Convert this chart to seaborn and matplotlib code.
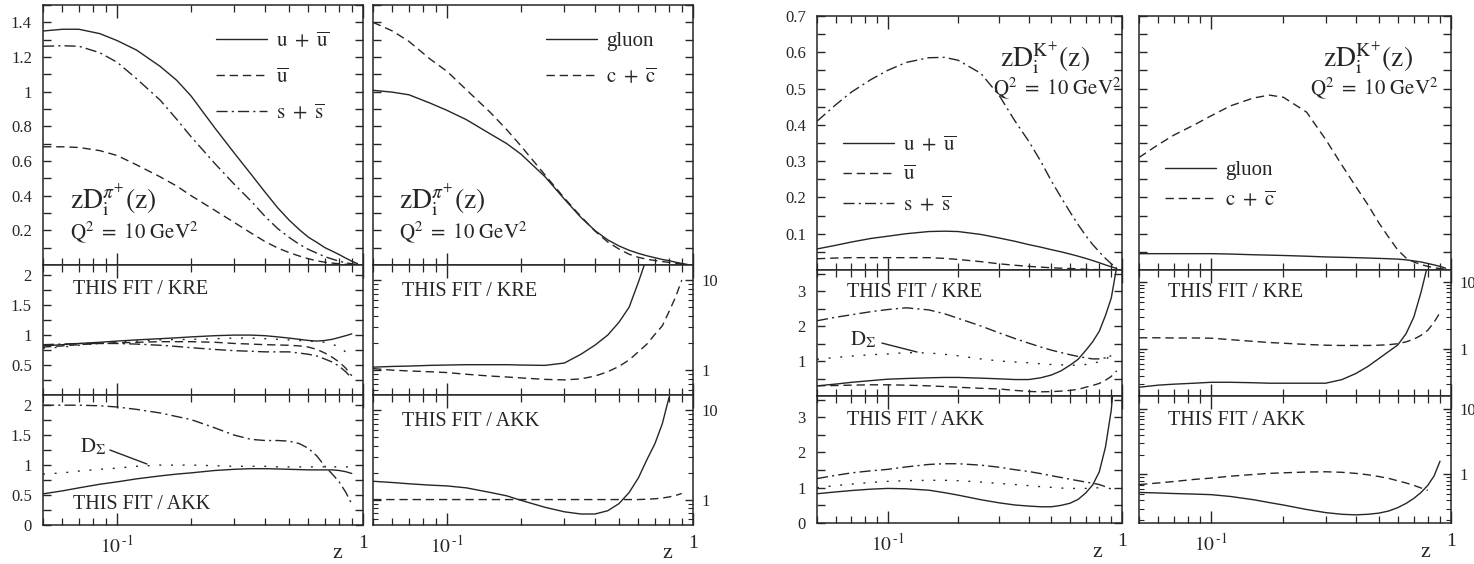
import numpy as np
import matplotlib
matplotlib.use("Agg")
import matplotlib.pyplot as plt
import seaborn as sns
from matplotlib.ticker import FixedLocator, FixedFormatter, NullFormatter, MultipleLocator, FuncFormatter

sns.set_theme(style="ticks")
plt.rcParams["font.family"] = ["Liberation Serif", "DejaVu Serif"]
plt.rcParams["mathtext.fontset"] = "stix"

NA = np.nan
# common z grid
z = [0.05, 0.06, 0.07, 0.085, 0.1, 0.12, 0.15, 0.175, 0.2, 0.25, 0.3, 0.35,
     0.4, 0.45, 0.5, 0.55, 0.6, 0.65, 0.7, 0.75, 0.8, 0.85, 0.9, 0.95]

# ---------------- pi+ : zD_i(z) ----------------
pi_upu = [1.35, 1.36, 1.36, 1.335, 1.295, 1.24, 1.145, 1.065, 0.975, 0.79, 0.645, 0.525,
          0.42, 0.33, 0.26, 0.205, 0.16, 0.13, 0.10, 0.08, 0.06, 0.04, 0.022, 0.008]
pi_ubar = [0.682, 0.682, 0.678, 0.66, 0.632, 0.578, 0.508, 0.455, 0.40, 0.315, 0.245, 0.185,
           0.135, 0.098, 0.072, 0.052, 0.036, 0.024, 0.016, 0.011, 0.007, 0.004, 0.002, 0.0005]
pi_sps = [1.262, 1.265, 1.262, 1.225, 1.17, 1.075, 0.95, 0.84, 0.74, 0.585, 0.465, 0.37,
          0.28, 0.21, 0.16, 0.12, 0.09, 0.068, 0.048, 0.034, 0.022, 0.013, 0.007, 0.002]
pi_glu = [1.008, 0.997, 0.982, 0.935, 0.892, 0.838, 0.756, 0.70, 0.639, 0.51, 0.38, 0.275,
          0.198, 0.145, 0.11, 0.085, 0.067, 0.053, 0.042, 0.032, 0.025, 0.016, 0.009, 0.003]
pi_cpc = [1.40, 1.35, 1.29, 1.19, 1.117, 1.01, 0.88, 0.78, 0.686, 0.52, 0.386, 0.28,
          0.195, 0.133, 0.092, 0.062, 0.044, 0.033, 0.026, 0.02, 0.015, 0.01, 0.005, 0.002]

# pi+ : THIS FIT / KRE
pi_kre_upu = [0.82, 0.84, 0.86, 0.88, 0.90, 0.92, 0.94, 0.955, 0.97, 0.99, 1.0, 1.0,
              0.99, 0.97, 0.95, 0.93, 0.91, 0.90, 0.91, 0.93, 0.96, 0.99, 1.02, NA]
pi_kre_ubar = [0.80, 0.82, 0.84, 0.86, 0.87, 0.88, 0.89, 0.89, 0.89, 0.88, 0.86, 0.85,
               0.84, 0.835, 0.83, 0.82, 0.80, 0.76, 0.70, 0.63, 0.55, 0.45, 0.32, NA]
pi_kre_sps = [0.84, 0.85, 0.86, 0.86, 0.86, 0.85, 0.83, 0.81, 0.79, 0.76, 0.74, 0.73,
              0.72, 0.72, 0.72, 0.70, 0.68, 0.65, 0.60, 0.55, 0.48, 0.39, 0.28, NA]
pi_kre_dsig = [0.78, 0.80, 0.83, 0.86, 0.88, 0.90, 0.92, 0.925, 0.93, 0.94, 0.95, 0.95,
               0.94, 0.93, 0.92, 0.91, 0.90, 0.89, 0.88, 0.85, 0.80, 0.72, 0.62, NA]
pi_kre_glu = [1.08, 1.10, 1.11, 1.13, 1.14, 1.15, 1.15, 1.15, 1.14, 1.13, 1.2, 1.5,
              1.9, 2.45, 3.4, 5.0, 9.5, 18.0, NA, NA, NA, NA, NA, NA]
pi_kre_cpc = [1.04, 1.0, 0.98, 0.96, 0.94, 0.90, 0.86, 0.84, 0.82, 0.79, 0.78, 0.80,
              0.86, 0.96, 1.1, 1.3, 1.6, 1.95, 2.5, 3.1, 4.5, 6.5, 10.0, NA]

# pi+ : THIS FIT / AKK
pi_akk_upu = [0.52, 0.57, 0.62, 0.68, 0.72, 0.77, 0.82, 0.85, 0.87, 0.91, 0.93, 0.94,
              0.94, 0.935, 0.93, 0.925, 0.92, 0.92, 0.92, 0.92, 0.91, 0.89, 0.86, NA]
pi_akk_sps = [2.0, 2.0, 2.0, 1.99, 1.97, 1.93, 1.87, 1.81, 1.76, 1.62, 1.50, 1.43,
              1.41, 1.41, 1.40, 1.36, 1.28, 1.15, 0.98, 0.85, 0.72, 0.55, 0.35, NA]
pi_akk_dsig = [0.85, 0.87, 0.90, 0.93, 0.95, 0.98, 1.0, 1.0, 1.0, 0.99, 0.98, 0.98,
               0.98, 0.97, 0.97, 0.97, 0.97, 0.97, 0.97, 0.97, 0.97, 0.97, 0.97, NA]
pi_akk_glu = [1.6, 1.55, 1.5, 1.45, 1.42, 1.35, 1.2, 1.1, 0.98, 0.82, 0.73, 0.69,
              0.69, 0.75, 0.9, 1.2, 1.75, 2.8, 4.2, 7.0, 14.0, NA, NA, NA]
pi_akk_cpc = [1.0, 1.0, 1.0, 1.0, 1.0, 1.0, 1.0, 1.0, 1.0, 1.0, 1.0, 1.0,
              1.0, 1.0, 1.0, 1.0, 1.0, 1.01, 1.02, 1.04, 1.07, 1.11, 1.17, NA]

# ---------------- K+ : zD_i(z) ----------------
k_upu = [0.058, 0.068, 0.077, 0.087, 0.093, 0.100, 0.106, 0.107, 0.106, 0.098, 0.088, 0.079,
         0.070, 0.063, 0.056, 0.050, 0.044, 0.038, 0.032, 0.026, 0.020, 0.014, 0.009, 0.004]
k_ubar = [0.031, 0.033, 0.034, 0.034, 0.034, 0.034, 0.034, 0.032, 0.029, 0.023, 0.017, 0.013,
          0.010, 0.008, 0.006, 0.005, 0.004, 0.003, 0.002, 0.0015, 0.001, 0.0007, 0.0005, 0.0002]
k_sps = [0.41, 0.455, 0.49, 0.525, 0.55, 0.572, 0.585, 0.586, 0.578, 0.542, 0.48, 0.41,
         0.355, 0.30, 0.245, 0.20, 0.16, 0.125, 0.095, 0.07, 0.05, 0.032, 0.017, 0.006]
k_glu = [0.045, 0.045, 0.045, 0.045, 0.045, 0.044, 0.042, 0.041, 0.040, 0.038, 0.036, 0.035,
         0.034, 0.033, 0.032, 0.031, 0.030, 0.028, 0.025, 0.022, 0.018, 0.014, 0.010, 0.005]
k_cpc = [0.31, 0.345, 0.372, 0.40, 0.425, 0.452, 0.474, 0.482, 0.476, 0.435, 0.36, 0.29,
         0.231, 0.18, 0.13, 0.09, 0.055, 0.033, 0.022, 0.015, 0.01, 0.006, 0.004, 0.002]

# K+ : THIS FIT / KRE
k_kre_upu = [0.29, 0.34, 0.39, 0.44, 0.48, 0.50, 0.52, 0.53, 0.53, 0.51, 0.49, 0.47,
             0.47, 0.52, 0.60, 0.72, 0.88, 1.05, 1.3, 1.55, 1.85, 2.3, 2.8, 3.7]
k_kre_ubar = [0.29, 0.30, 0.31, 0.32, 0.32, 0.31, 0.29, 0.27, 0.25, 0.22, 0.20, 0.16,
              0.13, 0.12, 0.125, 0.14, 0.16, 0.19, 0.25, 0.30, 0.36, 0.45, 0.56, 0.72]
k_kre_sps = [2.15, 2.25, 2.32, 2.41, 2.47, 2.52, 2.46, 2.35, 2.22, 2.0, 1.8, 1.64,
             1.51, 1.40, 1.31, 1.24, 1.18, 1.13, 1.09, 1.06, 1.06, 1.09, 1.15, NA]
k_kre_dsig = [1.05, 1.10, 1.14, 1.18, 1.20, 1.24, 1.23, 1.19, 1.15, 1.06, 1.0, 0.97,
              0.95, 0.92, 0.90, 0.89, 0.88, 0.88, 0.90, 0.93, 0.98, 1.05, 1.15, NA]
k_kre_glu = [0.27, 0.29, 0.30, 0.31, 0.32, 0.32, 0.315, 0.31, 0.31, 0.31, 0.31, 0.35,
             0.43, 0.55, 0.72, 0.92, 1.15, 1.7, 3.0, 7.0, 18.0, NA, NA, NA]
k_kre_cpc = [1.47, 1.47, 1.46, 1.46, 1.45, 1.38, 1.30, 1.25, 1.22, 1.17, 1.14, 1.13,
             1.13, 1.13, 1.14, 1.16, 1.2, 1.28, 1.4, 1.6, 1.9, 2.5, 3.5, NA]

# K+ : THIS FIT / AKK
k_akk_upu = [0.83, 0.88, 0.92, 0.96, 0.98, 0.97, 0.93, 0.86, 0.79, 0.66, 0.57, 0.51,
             0.48, 0.46, 0.46, 0.50, 0.56, 0.67, 0.85, 1.08, 1.45, 2.15, 3.2, 5.0]
k_akk_sps = [1.26, 1.35, 1.42, 1.48, 1.52, 1.59, 1.66, 1.68, 1.68, 1.64, 1.58, 1.51,
             1.46, 1.40, 1.34, 1.29, 1.24, 1.20, 1.16, 1.13, 1.09, 1.03, 0.96, NA]
k_akk_dsig = [1.0, 1.06, 1.10, 1.15, 1.18, 1.20, 1.21, 1.21, 1.20, 1.16, 1.12, 1.09,
              1.06, 1.03, 1.01, 0.99, 0.98, 0.98, 0.98, 0.99, 1.0, NA, NA, NA]
k_akk_glu = [0.53, 0.52, 0.51, 0.50, 0.49, 0.46, 0.41, 0.37, 0.34, 0.29, 0.26, 0.245,
             0.24, 0.245, 0.255, 0.275, 0.31, 0.36, 0.43, 0.53, 0.68, 0.95, 1.6, NA]
k_akk_cpc = [0.70, 0.74, 0.78, 0.84, 0.88, 0.94, 1.0, 1.04, 1.06, 1.09, 1.10, 1.08,
             1.04, 0.99, 0.93, 0.87, 0.80, 0.74, 0.68, 0.62, 0.57, NA, NA, NA]

# ---------------- drawing ----------------
W, H = 1474, 564
fig = plt.figure(figsize=(W / 100, H / 100), dpi=100)
fig.patch.set_facecolor("white")
INK = "#262626"
STY = {
    "solid": "-",
    "dashed": (0, (6, 3.5)),
    "dashdot": (0, (8, 3, 1.5, 3)),
    "dotted": (0, (1.4, 7)),
}


def panel(x0, x1, y0, y1):
    ax = fig.add_axes([x0 / W, 1 - y1 / H, (x1 - x0) / W, (y1 - y0) / H])
    ax.set_facecolor("white")
    for s in ax.spines.values():
        s.set_color(INK)
        s.set_linewidth(1.1)
        s.set_visible(True)
    ax.set_xscale("log")
    return ax


def curve(ax, y, style):
    sns.lineplot(x=z, y=y, ax=ax, color=INK, linewidth=1.0, linestyle=STY[style],
                 estimator=None, sort=False, legend=False)
    return ax.lines[-1]


def xfmt(ax, bottom):
    ax.set_xlim(0.05, 1)
    ax.xaxis.set_major_locator(FixedLocator([0.1, 1.0]))
    ax.xaxis.set_minor_locator(FixedLocator([0.05, 0.06, 0.07, 0.08, 0.09, 0.2, 0.3, 0.4, 0.5, 0.6, 0.7, 0.8, 0.9]))
    ax.xaxis.set_minor_formatter(NullFormatter())
    if bottom:
        ax.xaxis.set_major_formatter(FixedFormatter([r"$10^{\,\text{-}1}$", "1"]))
    else:
        ax.xaxis.set_major_formatter(NullFormatter())
    ax.tick_params(axis="x", which="major", direction="in", top=True, bottom=True, length=9,
                   width=1.0, color=INK, pad=7, labelsize=14, labelcolor=INK)
    ax.tick_params(axis="x", which="minor", direction="in", top=True, bottom=True, length=5,
                   width=0.9, color=INK)
    ax.set_xlabel("")
    ax.set_ylabel("")


def ylin(ax, lo, hi, step, labels, show):
    ax.set_ylim(lo, hi)
    ax.yaxis.set_major_locator(MultipleLocator(step))
    lab = set(round(v, 3) for v in labels)

    def f(v, p):
        if show and round(v, 3) in lab:
            return "%g" % v
        return ""
    ax.yaxis.set_major_formatter(FuncFormatter(f))
    ax.tick_params(axis="y", which="major", direction="in", left=True, right=True, length=6,
                   width=1.0, color=INK, pad=8, labelsize=12, labelcolor=INK)


def ylog(ax, lo, hi):
    ax.set_yscale("log")
    ax.set_ylim(lo, hi)
    ax.yaxis.set_major_locator(FixedLocator([1, 10]))
    ax.yaxis.set_major_formatter(FixedFormatter(["1", "10"]))
    minors = [m * d for d in (0.1, 1, 10) for m in range(2, 10)]
    ax.yaxis.set_minor_locator(FixedLocator(minors))
    ax.yaxis.set_minor_formatter(NullFormatter())
    ax.tick_params(axis="y", which="major", direction="in", left=True, right=True, length=6,
                   width=1.0, color=INK, pad=6, labelsize=12, labelcolor=INK,
                   labelleft=False, labelright=True)
    ax.tick_params(axis="y", which="minor", direction="in", left=True, right=True, length=3.5,
                   width=0.8, color=INK)


def legend(ax, handles, labels, anchor, spacing):
    lg = ax.legend(handles, labels, loc="upper left", bbox_to_anchor=anchor, frameon=False,
                   fontsize=15, handlelength=2.45, handletextpad=0.45, labelspacing=spacing,
                   borderpad=0, borderaxespad=0)
    for t in lg.get_texts():
        t.set_color(INK)


def txt(ax, x, y, s, size, ha="left"):
    ax.text(x, y, s, transform=ax.transAxes, fontsize=size, color=INK, ha=ha, va="center")


def dsig(ax, tx, ty, p0, p1):
    txt(ax, tx, ty, r"$\mathrm{D}_{\Sigma}$", 15)
    ax.annotate("", xy=p1, xytext=p0, xycoords="axes fraction", textcoords="axes fraction",
                arrowprops=dict(arrowstyle="-", color=INK, lw=1.0, shrinkA=0, shrinkB=0))


ZD_PI = r"$\mathrm{zD}_{\mathrm{i}}^{\pi^{+}}(\mathrm{z})$"
ZD_K = r"$\mathrm{zD}_{\mathrm{i}}^{\mathrm{K}^{+}}(\mathrm{z})$"
Q2 = r"$\mathrm{Q}^{2}\ =\ 10\ \mathrm{GeV}^{2}$"
L_UPU = r"$\mathrm{u}\ +\ \overline{\mathrm{u}}$"
L_UB = r"$\overline{\mathrm{u}}$"
L_SPS = r"$\mathrm{s}\ +\ \overline{\mathrm{s}}$"
L_CPC = r"$\mathrm{c}\ +\ \overline{\mathrm{c}}$"

# ===== pion group =====
PXL, PXR = (43, 363), (373, 693)
PR = [(5, 265), (265, 395), (395, 525)]

ax = panel(*PXL, *PR[0])
h1 = curve(ax, pi_upu, "solid")
h2 = curve(ax, pi_ubar, "dashed")
h3 = curve(ax, pi_sps, "dashdot")
xfmt(ax, False)
ylin(ax, 0, 1.5, 0.1, [0.2, 0.4, 0.6, 0.8, 1.0, 1.2, 1.4], True)
legend(ax, [h1, h2, h3], [L_UPU, L_UB, L_SPS], (0.54, 0.897), 0.78)
txt(ax, 0.085, 0.25, ZD_PI, 20)
txt(ax, 0.085, 0.125, Q2, 15)

ax = panel(*PXR, *PR[0])
h1 = curve(ax, pi_glu, "solid")
h2 = curve(ax, pi_cpc, "dashed")
xfmt(ax, False)
ylin(ax, 0, 1.5, 0.1, [], False)
legend(ax, [h1, h2], ["gluon", L_CPC], (0.54, 0.897), 0.78)
txt(ax, 0.08, 0.25, ZD_PI, 20)
txt(ax, 0.08, 0.125, Q2, 15)

ax = panel(*PXL, *PR[1])
curve(ax, pi_kre_upu, "solid")
curve(ax, pi_kre_ubar, "dashed")
curve(ax, pi_kre_sps, "dashdot")
curve(ax, pi_kre_dsig, "dotted")
xfmt(ax, False)
ylin(ax, 0, 2.17, 0.25, [0.5, 1.0, 1.5, 2.0], True)
txt(ax, 0.094, 0.81, "THIS FIT / KRE", 14.5)

ax = panel(*PXR, *PR[1])
curve(ax, pi_kre_glu, "solid")
curve(ax, pi_kre_cpc, "dashed")
xfmt(ax, False)
ylog(ax, 0.53, 14.7)
txt(ax, 0.09, 0.80, "THIS FIT / KRE", 14.5)

ax = panel(*PXL, *PR[2])
curve(ax, pi_akk_upu, "solid")
curve(ax, pi_akk_sps, "dashdot")
curve(ax, pi_akk_dsig, "dotted")
xfmt(ax, True)
ylin(ax, 0, 2.17, 0.25, [0.0, 0.5, 1.0, 1.5, 2.0], True)
txt(ax, 0.094, 0.16, "THIS FIT / AKK", 14.5)
dsig(ax, 0.115, 0.6, (0.209, 0.577), (0.325, 0.469))
txt(ax, 0.92, -0.22, "z", 16, ha="center")

ax = panel(*PXR, *PR[2])
curve(ax, pi_akk_glu, "solid")
curve(ax, pi_akk_cpc, "dashed")
xfmt(ax, True)
ylog(ax, 0.52, 14.7)
txt(ax, 0.09, 0.80, "THIS FIT / AKK", 14.5)
txt(ax, 0.92, -0.22, "z", 16, ha="center")

# ===== kaon group =====
KXL, KXR = (817, 1122), (1139, 1451)
KR = [(16, 270), (270, 396), (396, 523)]

ax = panel(*KXL, *KR[0])
h1 = curve(ax, k_upu, "solid")
h2 = curve(ax, k_ubar, "dashed")
h3 = curve(ax, k_sps, "dashdot")
xfmt(ax, False)
ylin(ax, 0, 0.7, 0.05, [0.1, 0.2, 0.3, 0.4, 0.5, 0.6, 0.7], True)
legend(ax, [h1, h2, h3], [L_UPU, L_UB, L_SPS], (0.085, 0.53), 0.5)
txt(ax, 0.6, 0.835, ZD_K, 20)
txt(ax, 0.998, 0.715, Q2, 15, ha="right")

ax = panel(*KXR, *KR[0])
h1 = curve(ax, k_glu, "solid")
h2 = curve(ax, k_cpc, "dashed")
xfmt(ax, False)
ylin(ax, 0, 0.7, 0.05, [], False)
legend(ax, [h1, h2], ["gluon", L_CPC], (0.083, 0.43), 0.5)
txt(ax, 0.59, 0.835, ZD_K, 20)
txt(ax, 0.96, 0.715, Q2, 15, ha="right")

ax = panel(*KXL, *KR[1])
curve(ax, k_kre_upu, "solid")
curve(ax, k_kre_ubar, "dashed")
curve(ax, k_kre_sps, "dashdot")
curve(ax, k_kre_dsig, "dotted")
xfmt(ax, False)
ylin(ax, 0, 3.6, 0.5, [1, 2, 3], True)
txt(ax, 0.098, 0.82, "THIS FIT / KRE", 14.5)
dsig(ax, 0.108, 0.444, (0.213, 0.42), (0.328, 0.349))

ax = panel(*KXR, *KR[1])
curve(ax, k_kre_glu, "solid")
curve(ax, k_kre_cpc, "dashed")
xfmt(ax, False)
ylog(ax, 0.2, 15)
txt(ax, 0.093, 0.82, "THIS FIT / KRE", 14.5)

ax = panel(*KXL, *KR[2])
curve(ax, k_akk_upu, "solid")
curve(ax, k_akk_sps, "dashdot")
curve(ax, k_akk_dsig, "dotted")
xfmt(ax, True)
ylin(ax, 0, 3.6, 0.5, [0, 1, 2, 3], True)
txt(ax, 0.098, 0.81, "THIS FIT / AKK", 14.5)
txt(ax, 0.918, -0.23, "z", 16, ha="center")

ax = panel(*KXR, *KR[2])
curve(ax, k_akk_glu, "solid")
curve(ax, k_akk_cpc, "dashed")
xfmt(ax, True)
ylog(ax, 0.18, 16)
txt(ax, 0.093, 0.81, "THIS FIT / AKK", 14.5)
txt(ax, 0.918, -0.23, "z", 16, ha="center")

fig.savefig("out.png", dpi=100, facecolor="white")
